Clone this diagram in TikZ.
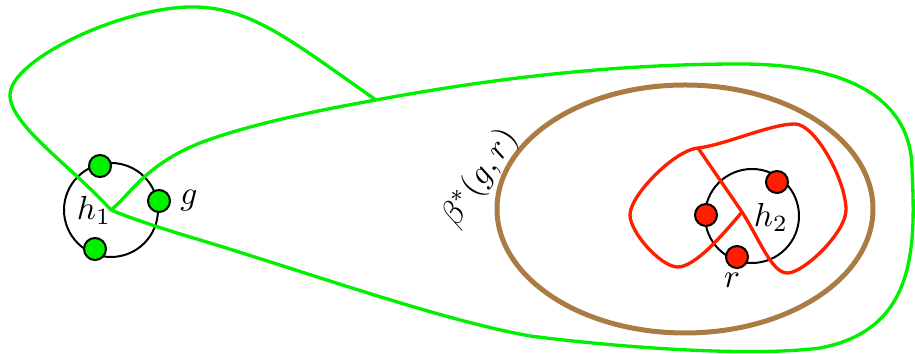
\documentclass[tikz,border=0pt]{standalone}
\usepackage{amsmath,amssymb}
\usepackage{tikz}
\usetikzlibrary{calc}
\definecolor{gcol}{RGB}{0,240,0}
\definecolor{rcol}{RGB}{255,30,0}
\definecolor{bcol}{RGB}{170,123,67}

\begin{document}
\begin{tikzpicture}[
  x=0.3pt, y=-0.3pt,
  hole/.style={circle, draw, line width=0.6pt, inner sep=0pt, minimum size=28.2pt},
  gdot/.style={circle, draw, line width=0.6pt, fill=gcol, inner sep=0pt, minimum size=6.6pt},
  rdot/.style={circle, draw, line width=0.6pt, fill=rcol, inner sep=0pt, minimum size=6.6pt},
  gline/.style={gcol, line width=1pt, line join=round},
  rline/.style={rcol, line width=1pt, line join=round},
  lab/.style={inner sep=1pt}
]
  \useasboundingbox (0,0) rectangle (915,354);

  % the two holes
  \node[hole] (h1) at (111,210) {};
  \node[hole] (h2) at (752,216) {};

  \draw[bcol, line width=1.5pt] (685,209) ellipse [x radius=56.4pt, y radius=37.2pt];

  \coordinate (c1) at (111,210);
  \coordinate (j1) at (376,100);
  \coordinate (c2) at (742,212);
  \coordinate (j2) at (698,148);

  % green curve
  \draw[gline] (c1) .. controls (130,195) and (145,165) .. (200,143)
    .. controls (250,124) and (320,110) .. (j1)
    .. controls (500,77) and (620,64) .. (740,64)
    .. controls (850,64) and (912,100) .. (912,170)
    .. controls (916,250) and (915,330) .. (820,348)
    .. controls (760,356) and (640,350) .. (530,336)
    .. controls (440,320) and (300,270) .. (200,240)
    .. controls (160,228) and (130,218) .. (c1);
  \draw[gline] (c1) .. controls (70,165) and (10,125) .. (10,95)
    .. controls (10,60) and (120,8) .. (190,7)
    .. controls (250,6) and (290,40) .. (j1);

  % red curve
  \draw[rline] (j2) -- (c2)
    .. controls (760,240) and (772,274) .. (788,273)
    .. controls (805,272) and (846,232) .. (846,210)
    .. controls (846,180) and (815,124) .. (795,124)
    .. controls (770,124) and (725,145) .. (j2);
  \draw[rline] (c2) .. controls (725,232) and (695,268) .. (677,267)
    .. controls (660,266) and (630,232) .. (630,215)
    .. controls (630,195) and (675,150) .. (j2);

  \node[gdot] (g1) at (100,166) {};
  \node[gdot] (g2) at (159,201) {};
  \node[gdot] (g3) at (95,249) {};
  \node[rdot] (r1) at (706,215) {};
  \node[rdot] (r2) at (777,182) {};
  \node[rdot] (r3) at (737,257) {};

  \node[lab] (lh1) at (94,210) {$h_1$};
  \node[lab] (lg) at (189,201) {$g$};
  \node[lab] (lh2) at (771,217) {$h_2$};
  \node[lab] (lr) at (732,280) {$r$};
  \node[lab, rotate=56] (lbeta) at (480,178) {$\beta^*(g,r)$};
\end{tikzpicture}
\end{document}
